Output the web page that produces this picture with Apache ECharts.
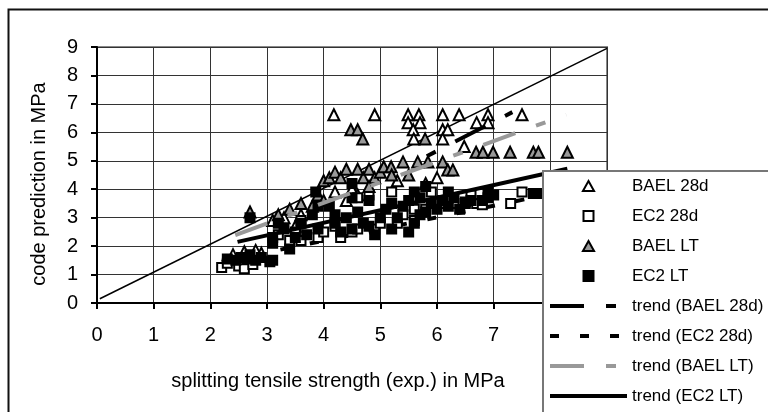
<!DOCTYPE html>
<html>
<head>
<meta charset="utf-8">
<script src="https://cdn.jsdelivr.net/npm/echarts@6/dist/echarts.min.js"></script>
<style>
  html, body { margin: 0; padding: 0; background: #fff; }
  #chart { width: 768px; height: 412px; }
</style>
</head>
<body>
<div id="chart"></div>
<script>
// ---- data (x = splitting tensile strength, y = code prediction) ----
const bael28d = [
  [2.4, 1.7], [2.6, 1.8], [2.8, 1.85], [2.9, 1.75], [3.1, 2.9], [3.3, 3.0], [3.5, 2.7], [3.6, 3.1],
  [4.2, 3.9], [4.4, 3.6], [4.6, 3.8], [4.5, 4.0], [5.3, 4.3], [5.8, 4.2], [6.0, 4.4],
  [4.18, 6.62], [4.9, 6.62], [5.49, 6.62], [5.68, 6.62], [6.1, 6.62], [6.39, 6.62], [6.9, 6.62], [7.5, 6.62],
  [5.49, 6.34], [5.7, 6.34], [6.7, 6.34], [6.9, 6.34], [5.58, 6.09], [6.1, 6.09], [6.19, 6.09],
  [6.1, 5.77], [5.59, 5.77], [6.48, 5.5]
];
const ec228d = [
  [2.2, 1.25], [2.3, 1.4], [2.5, 1.3], [2.6, 1.2], [2.75, 1.35], [3.2, 2.4], [3.4, 2.2], [3.5, 2.5],
  [3.6, 2.9], [3.6, 2.2], [3.9, 2.3], [4.0, 2.5], [4.2, 2.7], [4.3, 2.3], [4.5, 2.5], [4.6, 2.6],
  [4.6, 3.7], [4.8, 3.8], [4.9, 2.6], [5.0, 2.8], [5.2, 3.9], [5.3, 2.8], [5.4, 3.1], [5.6, 3.3],
  [5.6, 2.9], [5.8, 3.3], [5.9, 3.9], [6.1, 3.5], [6.3, 3.5], [6.5, 3.55], [6.7, 3.5], [6.8, 3.45],
  [7.3, 3.5], [7.5, 3.9], [6.6, 3.8]
];
const baelLt = [
  [2.7, 3.2], [3.2, 3.1], [3.4, 3.3], [3.6, 3.5], [3.8, 3.4], [3.9, 3.8], [4.0, 3.6], [4.0, 4.3],
  [4.1, 4.4], [4.2, 4.6], [4.3, 4.4], [4.4, 4.7], [4.6, 4.7], [4.7, 4.4], [4.8, 4.7], [4.9, 4.4],
  [5.0, 4.6], [4.8, 4.1], [4.48, 6.09], [4.6, 6.09], [4.69, 5.77], [5.79, 5.77], [5.06, 4.79], [5.19, 4.79],
  [5.2, 4.5], [5.4, 4.96], [5.5, 4.5], [5.66, 4.96], [5.84, 4.96], [6.1, 4.96], [6.19, 4.68], [6.28, 4.68],
  [6.69, 5.3], [6.81, 5.3], [6.99, 5.3], [7.29, 5.3], [7.7, 5.3], [7.79, 5.3], [8.3, 5.3]
];
const ec2Lt = [
  [2.3, 1.55], [2.45, 1.5], [2.55, 1.6], [2.65, 1.55], [2.7, 1.7], [2.8, 1.5], [2.9, 1.6], [3.05, 1.45],
  [3.1, 1.5], [2.7, 3.0], [3.1, 2.3], [3.1, 2.1], [3.4, 1.9], [3.5, 2.3], [3.3, 2.6], [3.6, 2.8],
  [3.8, 3.1], [3.9, 2.6], [3.7, 2.4], [3.2, 2.8], [3.9, 3.4], [3.86, 3.9], [4.1, 3.4], [4.2, 2.8],
  [4.3, 2.5], [4.4, 3.0], [4.5, 2.6], [4.6, 3.2], [4.7, 2.8], [4.8, 3.6], [4.9, 2.4], [5.0, 3.0],
  [4.5, 3.7], [4.5, 4.2], [4.2, 3.1], [4.8, 2.7], [5.1, 3.3], [5.2, 2.6], [5.3, 3.0], [5.4, 3.4],
  [5.5, 3.6], [5.5, 2.5], [5.6, 3.9], [5.7, 3.7], [5.7, 3.1], [5.8, 3.2], [5.8, 4.1], [5.9, 3.5],
  [6.0, 3.3], [5.2, 3.5], [5.6, 2.8], [6.1, 3.6], [6.2, 3.4], [6.3, 3.7], [6.5, 3.5], [6.6, 3.6],
  [6.8, 3.6], [6.9, 3.7], [6.4, 3.3], [7.0, 3.8], [6.2, 3.9], [7.7, 3.85], [7.8, 3.85], [6.9, 3.9]
];

// trend lines (end points) and the y = x reference line
const trendBael28d = [[5.82, 5.16], [7.33, 6.71]];
const trendEc228d = [[2.2, 1.45], [7.8, 3.75]];
const trendBaelLt = [[2.44, 2.39], [8.28, 6.62]];
const trendEc2Lt = [[2.48, 2.15], [8.3, 4.72]];
const equalityLine = [[0.05, 0.15], [9, 8.95]];

const FONT = 'Liberation Sans, Arial, sans-serif';
const DASH_LONG_SHORT = [34, 22, 10, 22];
const DASH_SHORT = [9, 21];
const TRIANGLE_ICON = 'path://M5,0L10,9L0,9Z';
const SQUARE_ICON = 'path://M0,0H9V9H0Z';

const chart = echarts.init(document.getElementById('chart'), null, { renderer: 'canvas' });

function scatter(name, data, symbol, fill, size) {
  return {
    name, type: 'scatter', data, symbol, symbolSize: size, z: 2,
    itemStyle: { color: fill, borderColor: '#000', borderWidth: 2, opacity: 1 }
  };
}

function trend(name, data, color, dash, z, offset) {
  return {
    name, type: 'line', data, symbol: 'none', z,
    lineStyle: { color, width: 4, type: dash, dashOffset: offset || 0, cap: 'butt' },
    itemStyle: { color }
  };
}

// legend entry for a trend line: only the (dashed) line, no marker dot
function trendLegend(name, color, dash) {
  return {
    name,
    itemStyle: { color: 'rgba(0,0,0,0)', borderColor: 'rgba(0,0,0,0)', borderWidth: 0 },
    lineStyle: { color, width: 4, type: dash, dashOffset: 0, cap: 'butt' }
  };
}

chart.setOption({
  animation: false,
  textStyle: { fontFamily: FONT, color: '#000' },
  graphic: [{
    type: 'rect', left: 6, top: 7, z: 0, silent: true,
    shape: { width: 800, height: 450 },
    style: { fill: 'none', stroke: '#111', lineWidth: 2 }
  }],
  grid: {
    left: 97, right: 161, top: 47, bottom: 109,
    show: true, borderColor: '#888', borderWidth: 2, backgroundColor: 'transparent'
  },
  xAxis: {
    type: 'value', min: 0, max: 9, interval: 1,
    name: 'splitting tensile strength (exp.) in MPa',
    nameLocation: 'middle', nameGap: 68,
    nameTextStyle: { fontSize: 20, fontFamily: FONT, color: '#000', padding: [0, 28, 0, 0] },
    axisLine: { onZero: false, lineStyle: { color: '#000', width: 2 } },
    axisTick: { show: true, length: 6, lineStyle: { color: '#000', width: 2 } },
    axisLabel: { fontSize: 20, fontFamily: FONT, color: '#000', margin: 22 },
    splitLine: { show: true, lineStyle: { color: '#333', width: 1 } }
  },
  yAxis: {
    type: 'value', min: 0, max: 9, interval: 1,
    name: 'code prediction in MPa',
    nameLocation: 'middle', nameGap: 48,
    nameTextStyle: { fontSize: 20, fontFamily: FONT, color: '#000', padding: [0, 18, 0, 0] },
    axisLine: { onZero: false, lineStyle: { color: '#000', width: 2 } },
    axisTick: { show: true, length: 6, lineStyle: { color: '#000', width: 2 } },
    axisLabel: { fontSize: 20, fontFamily: FONT, color: '#000', margin: 19 },
    splitLine: { show: true, lineStyle: { color: '#333', width: 1 } }
  },
  legend: {
    orient: 'vertical', left: 543, top: 171, height: 236,
    padding: [5, 120, 20, 5],
    backgroundColor: '#fff', borderColor: '#777', borderWidth: 2,
    itemWidth: 77, itemHeight: 10, itemGap: 10, itemTextGap: 0,
    symbolKeepAspect: true,
    textStyle: { fontSize: 17, fontFamily: FONT, color: '#000', lineHeight: 20 },
    data: [
      { name: 'BAEL 28d', icon: TRIANGLE_ICON },
      { name: 'EC2 28d', icon: SQUARE_ICON },
      { name: 'BAEL LT', icon: TRIANGLE_ICON },
      { name: 'EC2 LT', icon: SQUARE_ICON },
      trendLegend('trend (BAEL 28d)', '#000', DASH_LONG_SHORT),
      trendLegend('trend (EC2 28d)', '#000', DASH_SHORT),
      trendLegend('trend (BAEL LT)', '#999', DASH_LONG_SHORT),
      trendLegend('trend (EC2 LT)', '#000', 'solid')
    ]
  },
  series: [
    {
      name: 'y = x', type: 'line', data: equalityLine, symbol: 'none', z: 1,
      lineStyle: { color: '#000', width: 1.5 }
    },
    trend('trend (EC2 28d)', trendEc228d, '#000', DASH_SHORT, 1),
    scatter('BAEL 28d', bael28d, 'triangle', '#fff', 11),
    scatter('EC2 28d', ec228d, 'rect', '#fff', 9),
    scatter('BAEL LT', baelLt, 'triangle', '#999', 11),
    scatter('EC2 LT', ec2Lt, 'rect', '#000', 9),
    // start with the short dash, as in the picture
    trend('trend (BAEL 28d)', trendBael28d, '#000', DASH_LONG_SHORT, 3, 56),
    trend('trend (BAEL LT)', trendBaelLt, '#999', DASH_LONG_SHORT, 3),
    trend('trend (EC2 LT)', trendEc2Lt, '#000', 'solid', 3)
  ]
});
</script>
</body>
</html>
